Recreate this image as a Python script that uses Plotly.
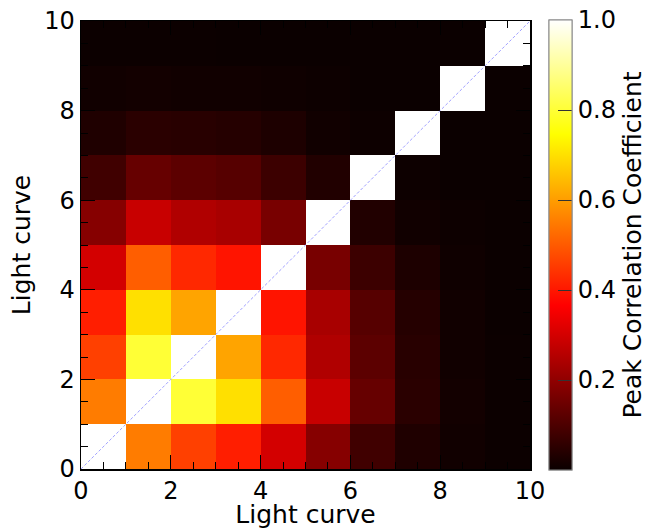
import plotly.graph_objects as go

# cell centres (light-curve index) along both axes
centers = [0.5, 1.5, 2.5, 3.5, 4.5, 5.5, 6.5, 7.5, 8.5, 9.5]

# peak correlation coefficient, one list per row (y = 0..9, bottom to top)
row0 = [1.00, 0.55, 0.46, 0.41, 0.30, 0.185, 0.080, 0.032, 0.010, 0.003]
row1 = [0.55, 1.00, 0.80, 0.70, 0.505, 0.283, 0.137, 0.047, 0.014, 0.003]
row2 = [0.46, 0.80, 1.00, 0.61, 0.425, 0.247, 0.122, 0.044, 0.011, 0.003]
row3 = [0.41, 0.70, 0.61, 1.00, 0.395, 0.235, 0.113, 0.040, 0.011, 0.002]
row4 = [0.30, 0.505, 0.425, 0.395, 1.00, 0.164, 0.074, 0.029, 0.008, 0.002]
row5 = [0.185, 0.283, 0.247, 0.235, 0.164, 1.00, 0.035, 0.011, 0.004, 0.001]
row6 = [0.080, 0.137, 0.122, 0.113, 0.074, 0.035, 1.00, 0.005, 0.002, 0.001]
row7 = [0.032, 0.047, 0.044, 0.040, 0.029, 0.011, 0.005, 1.00, 0.001, 0.001]
row8 = [0.010, 0.014, 0.011, 0.011, 0.008, 0.004, 0.002, 0.001, 1.00, 0.001]
row9 = [0.003, 0.003, 0.003, 0.002, 0.002, 0.001, 0.001, 0.001, 0.001, 1.00]

z = [row0, row1, row2, row3, row4, row5, row6, row7, row8, row9]

# diagonal reference line endpoints
diag_x = [0, 10]
diag_y = [0, 10]

axis_ticks = [0, 2, 4, 6, 8, 10]
cb_major = [0.2, 0.4, 0.6, 0.8, 1.0]
cb_major_text = ["0.2", "0.4", "0.6", "0.8", "1.0"]
cb_minor = [0.05, 0.10, 0.15, 0.20, 0.25, 0.30, 0.35, 0.40, 0.45, 0.50,
            0.55, 0.60, 0.65, 0.70, 0.75, 0.80, 0.85, 0.90, 0.95, 1.00]

hot = [[0.0, "rgb(10,0,0)"], [0.365079, "rgb(255,0,0)"],
       [0.746032, "rgb(255,255,0)"], [1.0, "rgb(255,255,255)"]]

FONT = "DejaVu Sans"

cb_common = dict(
    thickness=23, lenmode="pixels", len=450, x=1.042, xanchor="left",
    y=0.5, yanchor="middle", xpad=0, ypad=0,
    outlinecolor="#888888", outlinewidth=1, ticks="inside",
    tickcolor="#333333", tickwidth=1,
)

fig = go.Figure()
fig.add_trace(go.Heatmap(
    x=centers, y=centers, z=z, colorscale=hot, zmin=0, zmax=1,
    hoverinfo="skip",
    colorbar=dict(**cb_common, tickmode="array", tickvals=cb_minor,
                  ticktext=[""] * len(cb_minor), ticklen=7, showticklabels=False),
))
fig.add_trace(go.Heatmap(
    x=centers, y=centers, z=z, colorscale=hot, zmin=0, zmax=1,
    hoverinfo="skip",
    colorbar=dict(**cb_common, tickmode="array", tickvals=cb_major,
                  ticktext=cb_major_text, ticklen=14,
                  tickfont=dict(family=FONT, size=24, color="black"),
                  title=dict(text="Peak Correlation Coefficient", side="right",
                             font=dict(family=FONT, size=25, color="black"))),
))
fig.add_trace(go.Scatter(
    x=diag_x, y=diag_y, mode="lines", hoverinfo="skip", showlegend=False,
    line=dict(color="rgba(120,120,255,0.7)", width=1, dash="3px,2px"),
))

axis_common = dict(
    range=[0, 10], tickmode="array", tickvals=axis_ticks,
    ticks="inside", ticklen=14, tickwidth=1, tickcolor="black",
    minor=dict(dtick=0.5, ticks="inside", ticklen=7, tickcolor="black", tickwidth=1),
    showline=True, linecolor="black", linewidth=1.5, mirror="ticks",
    showgrid=False, zeroline=False, automargin=False,
    tickfont=dict(family=FONT, size=24, color="black"),
)

fig.update_layout(
    width=664, height=529,
    margin=dict(l=81, r=134, t=21, b=60, autoexpand=False),
    paper_bgcolor="white", plot_bgcolor="white",
    font=dict(family=FONT, color="black"),
    showlegend=False,
    xaxis=dict(**axis_common, title=dict(text="Light curve", standoff=2,
                                         font=dict(family=FONT, size=25))),
    yaxis=dict(**axis_common, title=dict(text="Light curve", standoff=6,
                                         font=dict(family=FONT, size=25))),
)

fig.write_html("out.html",
               config={"displayModeBar": False, "staticPlot": True},
               post_script="document.body.style.margin='0px';document.body.style.overflow='hidden';")
